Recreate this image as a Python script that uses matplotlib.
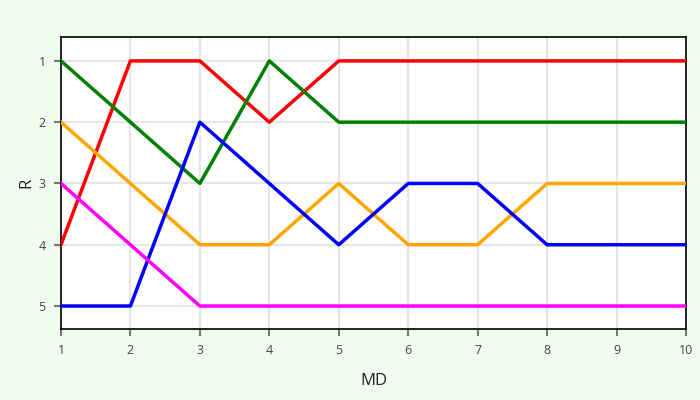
import matplotlib.pyplot as plt

plt.rcParams['font.family'] = ['Open Sans', 'DejaVu Sans']

md = [1, 2, 3, 4, 5, 6, 7, 8, 9, 10]
red = [4, 1, 1, 2, 1, 1, 1, 1, 1, 1]
green = [1, 2, 3, 1, 2, 2, 2, 2, 2, 2]
orange = [2, 3, 4, 4, 3, 4, 4, 3, 3, 3]
blue = [5, 5, 2, 3, 4, 3, 3, 4, 4, 4]
magenta = [3, 4, 5, 5, 5, 5, 5, 5, 5, 5]

fig = plt.figure(figsize=(7, 4), dpi=100, facecolor='#f0fcf0')
ax = fig.add_axes([0.0871, 0.1775, 0.8929, 0.73])
ax.set_facecolor('white')

for ys, c in [(red, 'red'), (green, 'green'), (orange, 'orange'),
              (blue, 'blue'), (magenta, 'magenta')]:
    ax.plot(md, ys, color=c, lw=2.5, zorder=3)

ax.set_xlim(1, 10)
ax.set_ylim(5.375, 0.61)
ax.set_xticks(md)
ax.set_yticks([1, 2, 3, 4, 5])
ax.grid(True, color='#e6e6e6', lw=1.5, zorder=0)
for s in ax.spines.values():
    s.set_color('black')
    s.set_linewidth(1.2)
ax.tick_params(colors='#777777', labelcolor='#444444', labelsize=9, length=5, width=1.5, pad=6)
ax.set_xlabel('MD', fontsize=12, color='#222222', labelpad=11)
ax.set_ylabel('R', fontsize=12, color='#222222', labelpad=3)

fig.savefig('out.png', dpi=100, facecolor=fig.get_facecolor())
